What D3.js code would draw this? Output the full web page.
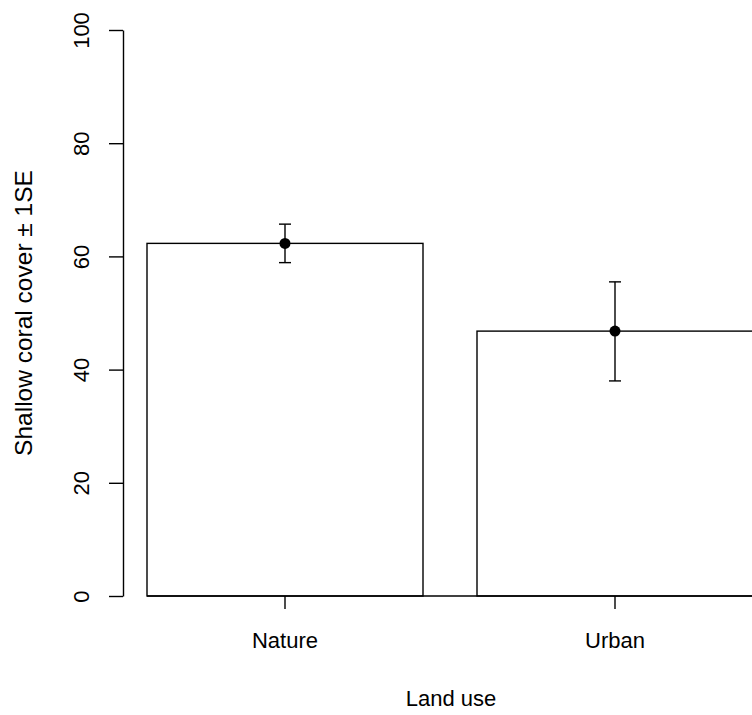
<!DOCTYPE html>
<html>
<head>
<meta charset="utf-8">
<script src="https://cdn.jsdelivr.net/npm/d3@7"></script>
<style>
  html, body { margin: 0; padding: 0; background: #fff; }
  svg { display: block; font-family: "Liberation Sans", Arial, sans-serif; }
</style>
</head>
<body>
<svg id="chart" width="752" height="715"></svg>
<script>
// Mean shallow coral cover by land use, with ±1 SE
const categories = ["Nature", "Urban"];
const means = [62.3, 46.8];
const seUpper = [65.7, 55.5];
const seLower = [58.9, 38.0];
const yTicks = [0, 20, 40, 60, 80, 100];

const svg = d3.select("#chart");
const ink = "#000";
const lw = 1.4;

const x = d3.scaleBand()
  .domain(categories)
  .range([147, 753])
  .paddingInner(54 / 330)
  .paddingOuter(0);

const y = d3.scaleLinear().domain([0, 100]).range([596, 30]);

// bars
svg.append("g").selectAll("rect")
  .data(categories)
  .join("rect")
  .attr("x", d => x(d))
  .attr("y", (d, i) => y(means[i]))
  .attr("width", x.bandwidth())
  .attr("height", (d, i) => y(0) - y(means[i]))
  .attr("fill", "#fff")
  .attr("stroke", ink)
  .attr("stroke-width", lw);

// baseline under the bars
svg.append("line")
  .attr("x1", x(categories[0])).attr("x2", 752)
  .attr("y1", y(0)).attr("y2", y(0))
  .attr("stroke", ink).attr("stroke-width", lw);

// error bars
const cap = 6;
const eb = svg.append("g").selectAll("g")
  .data(categories)
  .join("g")
  .attr("transform", d => `translate(${x(d) + x.bandwidth() / 2},0)`);
eb.append("line")
  .attr("y1", (d, i) => y(seUpper[i])).attr("y2", (d, i) => y(seLower[i]))
  .attr("stroke", ink).attr("stroke-width", lw);
eb.append("line")
  .attr("x1", -cap).attr("x2", cap)
  .attr("y1", (d, i) => y(seUpper[i])).attr("y2", (d, i) => y(seUpper[i]))
  .attr("stroke", ink).attr("stroke-width", lw);
eb.append("line")
  .attr("x1", -cap).attr("x2", cap)
  .attr("y1", (d, i) => y(seLower[i])).attr("y2", (d, i) => y(seLower[i]))
  .attr("stroke", ink).attr("stroke-width", lw);
eb.append("circle")
  .attr("cy", (d, i) => y(means[i]))
  .attr("r", 5.5)
  .attr("fill", ink);

// y axis
const yAxis = svg.append("g")
  .attr("transform", "translate(123,0)")
  .call(d3.axisLeft(y).tickValues(yTicks).tickSize(14).tickSizeOuter(0).tickPadding(0).tickFormat(d3.format("d")));
yAxis.select(".domain").attr("stroke", ink).attr("stroke-width", lw);
yAxis.selectAll(".tick line").attr("stroke", ink).attr("stroke-width", lw);
yAxis.selectAll(".tick text")
  .attr("x", null).attr("dy", null)
  .attr("transform", "translate(-34,0) rotate(-90)")
  .attr("text-anchor", "middle")
  .attr("font-size", 22)
  .attr("fill", ink);

// x axis (ticks and labels only)
const xAxis = svg.append("g")
  .attr("transform", `translate(0,${y(0)})`)
  .call(d3.axisBottom(x).tickSize(13).tickSizeOuter(0).tickPadding(0));
xAxis.select(".domain").remove();
xAxis.selectAll(".tick line").attr("stroke", ink).attr("stroke-width", lw);
xAxis.selectAll(".tick text")
  .attr("y", 52).attr("dy", null)
  .attr("font-size", 22)
  .attr("fill", ink);

// axis titles
svg.append("text")
  .attr("x", 451).attr("y", 706)
  .attr("text-anchor", "middle")
  .attr("font-size", 22)
  .attr("fill", ink)
  .text("Land use");

svg.append("text")
  .attr("transform", "translate(32,313) rotate(-90)")
  .attr("text-anchor", "middle")
  .attr("font-size", 24.5)
  .attr("fill", ink)
  .text("Shallow coral cover ± 1SE");
</script>
</body>
</html>
